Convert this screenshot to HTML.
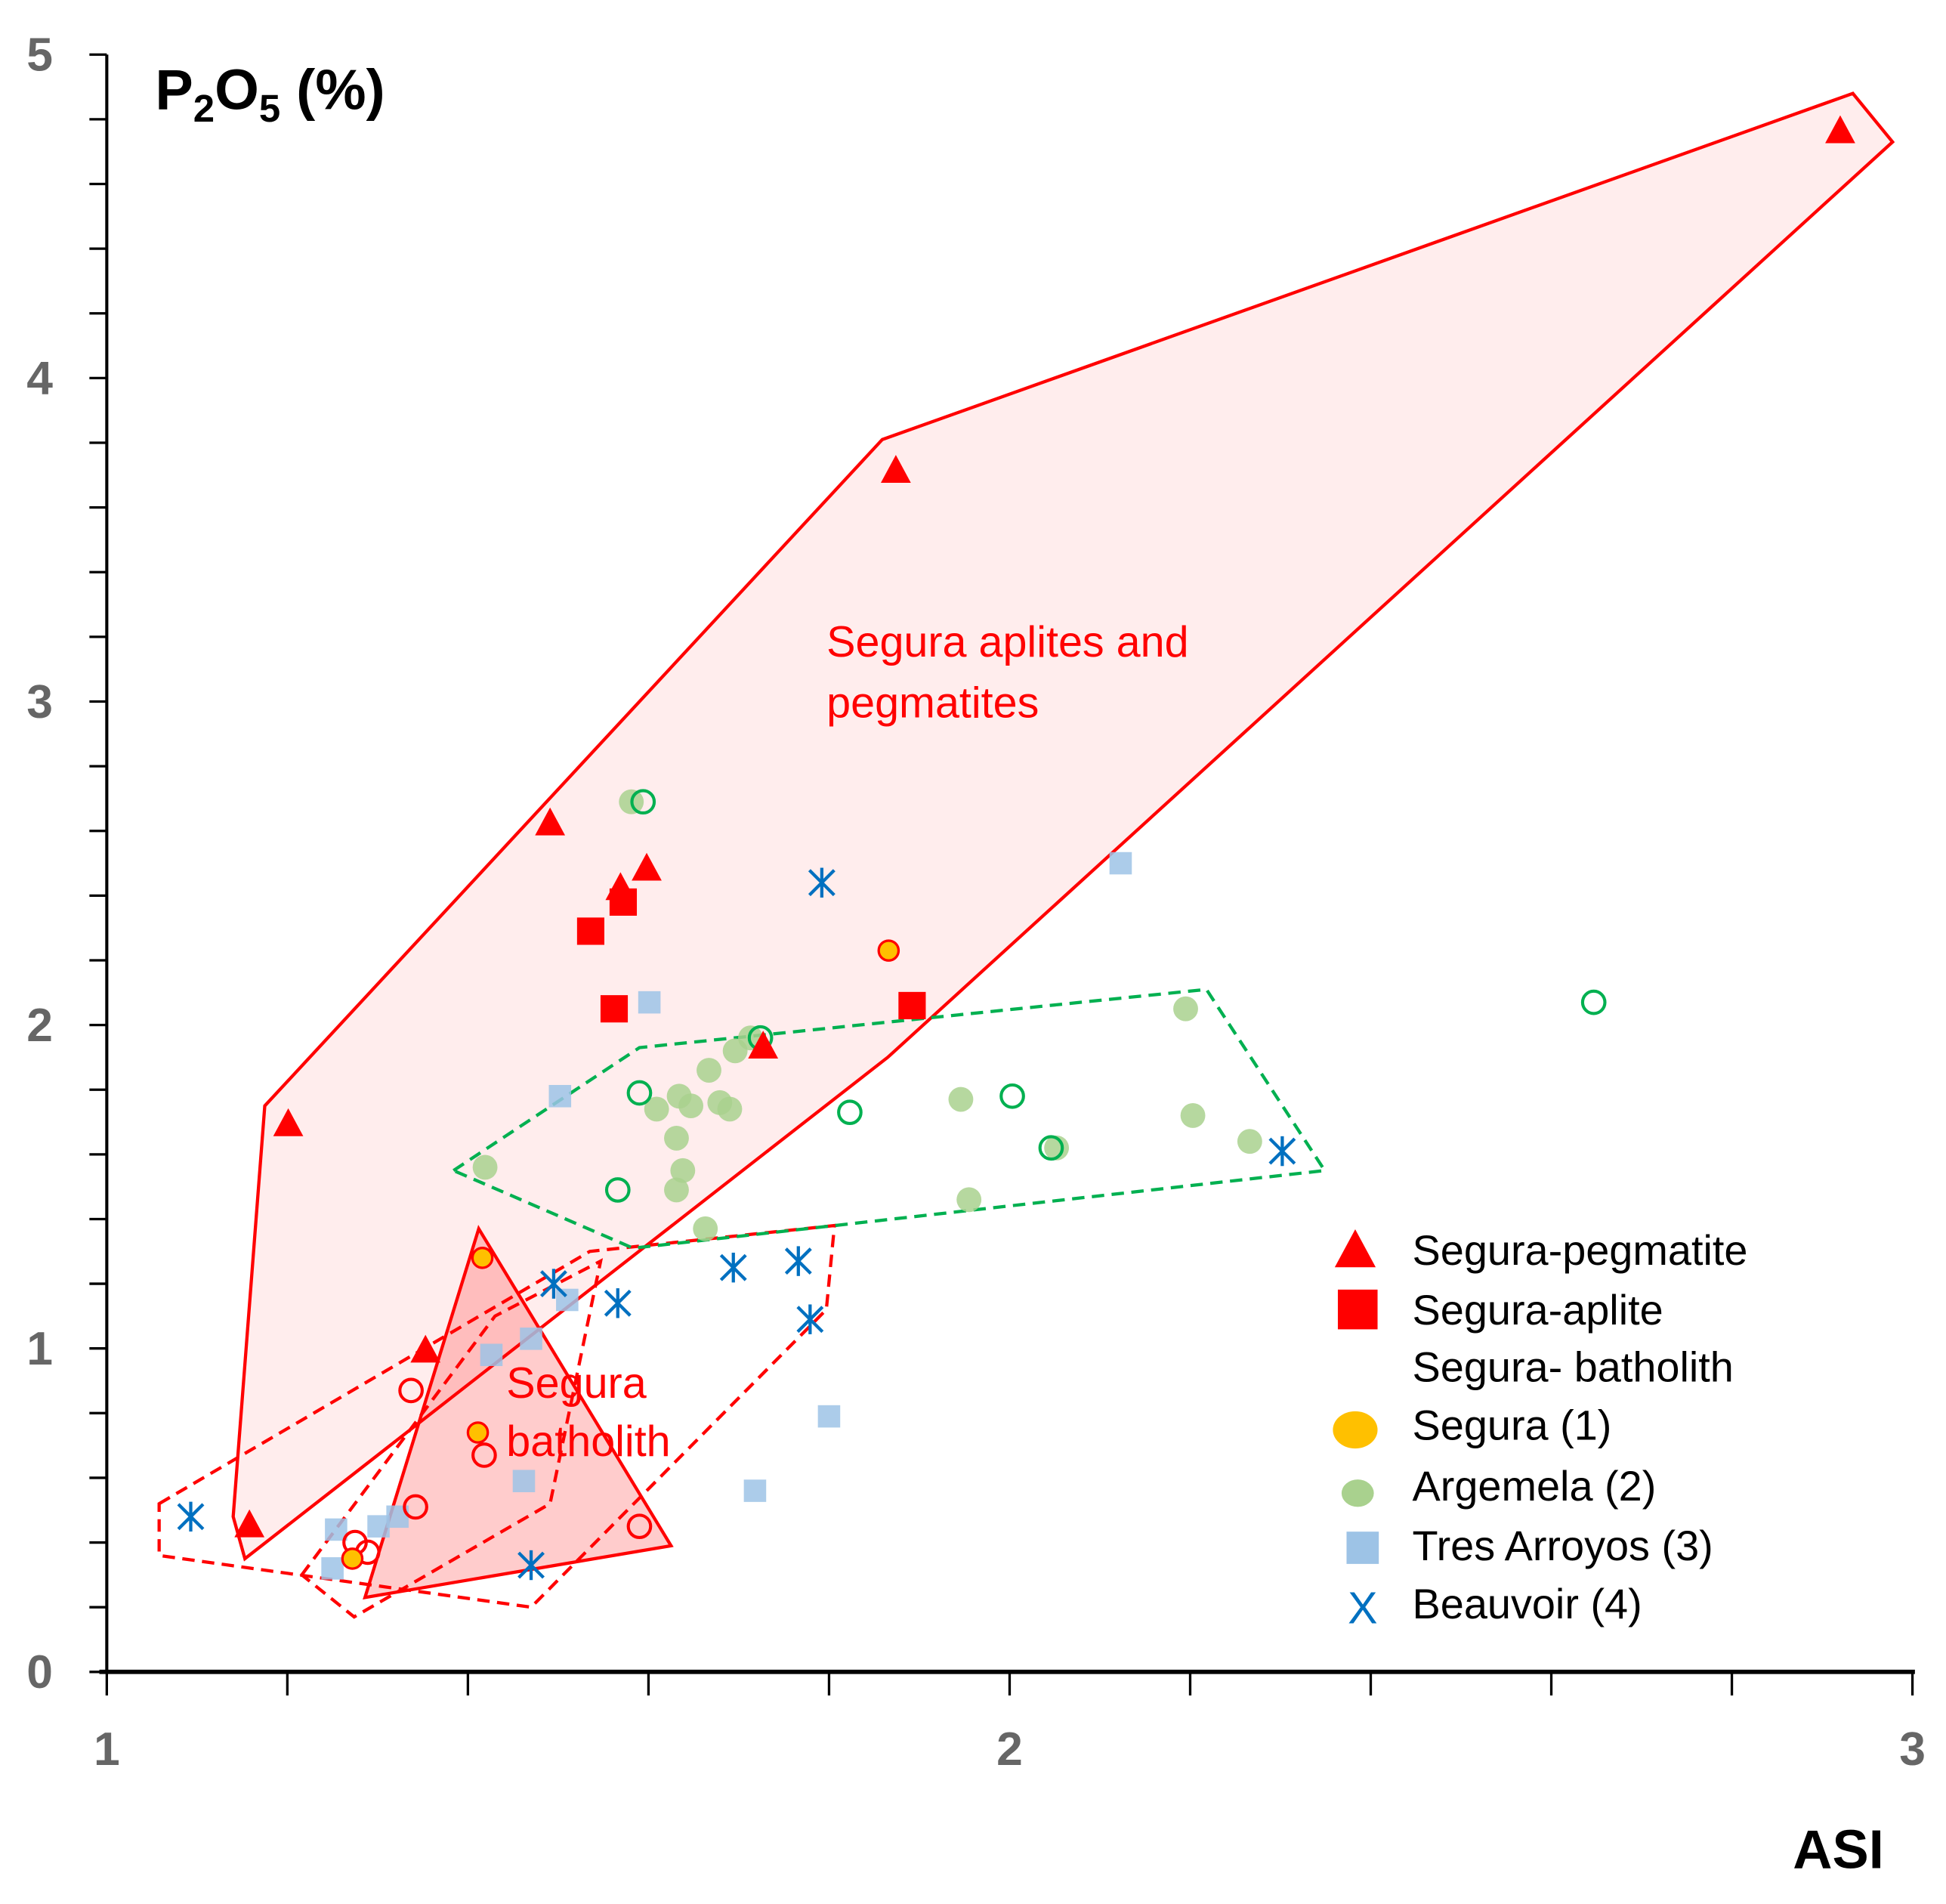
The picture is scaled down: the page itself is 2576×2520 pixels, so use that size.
<!DOCTYPE html>
<html><head><meta charset="utf-8"><style>
html,body{margin:0;padding:0;background:#fff;}
svg{display:block;}
text{font-family:"Liberation Sans",sans-serif;}
</style></head><body>
<svg id="chart" width="2576" height="2520" viewBox="0 0 1568 1534" xmlns="http://www.w3.org/2000/svg">
<g id="regions"></g>
<g id="axes"></g>
<g id="points"></g>
<g id="legend"></g>
<text x="125" y="88" font-size="46" font-weight="bold" fill="#000">P<tspan font-size="31" dy="10">2</tspan><tspan dy="-10">O</tspan><tspan font-size="31" dy="10">5</tspan><tspan dy="-10"> (%)</tspan></text>
<text x="1518" y="1505" font-size="44" font-weight="bold" text-anchor="end" fill="#000">ASI</text>
<text x="666" y="529" font-size="35" fill="#ff0000">Segura aplites and</text>
<text x="666" y="578" font-size="35" fill="#ff0000">pegmatites</text>
<text x="408" y="1126" font-size="35" fill="#ff0000">Segura</text>
<text x="408" y="1173" font-size="35" fill="#ff0000">batholith</text>
</svg>
<script>
const xTicks=[1,2,3];
const yTicks=[0,1,2,3,4,5];
const pegX=[2.920,1.874,1.491,1.598,1.569,1.727,1.201,1.353,1.158];
const pegY=[4.76,3.71,2.62,2.48,2.42,1.93,1.69,0.99,0.45];
const apX=[1.536,1.572,1.562,1.892];
const apY=[2.29,2.38,2.05,2.06];
const seg1X=[1.416,1.411,1.866,1.272];
const seg1Y=[1.28,0.74,2.23,0.35];
const segOpenX=[1.337,1.418,1.342,1.289,1.275,1.590];
const segOpenY=[0.87,0.67,0.51,0.37,0.40,0.45];
const argX=[1.581,1.713,1.696,1.667,1.609,1.634,1.647,1.679,1.690,1.631,1.638,1.631,1.663,1.419,2.195,2.203,2.266,1.946,1.955,2.052];
const argY=[2.69,1.96,1.92,1.86,1.74,1.78,1.75,1.76,1.74,1.65,1.55,1.49,1.37,1.56,2.05,1.72,1.64,1.77,1.46,1.62];
const argOpenX=[1.594,1.724,1.590,1.566,1.823,2.003,2.046,2.647];
const argOpenY=[2.69,1.96,1.79,1.49,1.73,1.78,1.62,2.07];
const taX=[2.123,1.601,1.502,1.510,1.470,1.426,1.322,1.301,1.254,1.250,1.462,1.800,1.718];
const taY=[2.50,2.07,1.78,1.15,1.03,0.98,0.48,0.45,0.44,0.32,0.59,0.79,0.56];
const bvX=[1.792,2.302,1.694,1.766,1.779,1.566,1.495,1.093,1.470];
const bvY=[2.44,1.61,1.25,1.27,1.09,1.14,1.20,0.48,0.33];
const pegFieldX=[1.175,1.859,2.934,2.978,1.865,1.153,1.140];
const pegFieldY=[1.75,3.81,4.88,4.73,1.90,0.35,0.48];
const bathFieldX=[1.412,1.625,1.286];
const bathFieldY=[1.37,0.39,0.23];
const dash1X=[1.058,1.535,1.806,1.797,1.470,1.058];
const dash1Y=[0.52,1.30,1.38,1.12,0.20,0.36];
const dash2X=[1.216,1.430,1.547,1.491,1.274];
const dash2Y=[0.30,1.10,1.27,0.52,0.17];
const greenFieldX=[1.384,1.590,2.218,2.349,1.583];
const greenFieldY=[1.55,1.93,2.11,1.55,1.31];

const NS="http://www.w3.org/2000/svg";
function sx(v){return 86+(v-1)*727.5;}
function sy(v){return 1347-v*260.6;}
function mk(tag,attrs,parent){const e=document.createElementNS(NS,tag);for(const k in attrs)e.setAttribute(k,attrs[k]);parent.appendChild(e);return e;}
const regions=document.getElementById('regions');
const axes=document.getElementById('axes');
const pts=document.getElementById('points');
const leg=document.getElementById('legend');
function poly(xs,ys,fill,stroke,dash,name){
  const p=xs.map((x,i)=>sx(x)+','+sy(ys[i])).join(' ');
  const e=mk('polygon',{points:p,fill:fill,stroke:stroke,'stroke-width':2.6,'stroke-dasharray':dash||'none'},regions);
  
  
}
poly(pegFieldX,pegFieldY,'rgba(255,0,0,0.07)','#ff0000',null,'aplite-pegmatite-field');
poly(bathFieldX,bathFieldY,'rgba(255,0,0,0.2)','#ff0000',null,'batholith-field');
poly(dash1X,dash1Y,'none','#ff0000','10,6','batholith-dashed-field-1');
poly(dash2X,dash2Y,'none','#ff0000','10,6','batholith-dashed-field-2');
poly(greenFieldX,greenFieldY,'none','#00b050','10,6','argemela-field');

let e=mk('line',{x1:86,y1:44,x2:86,y2:1347,stroke:'#000','stroke-width':2.5},axes);


e=mk('line',{x1:80,y1:1347,x2:1543,y2:1347,stroke:'#000','stroke-width':3.5},axes);


for(let i=0;i<=10;i++){
  const v=1+i*0.2;
  e=mk('line',{x1:sx(v),y1:1347,x2:sx(v),y2:1366,stroke:'#000','stroke-width':2},axes);
  
  
}
for(let i=0;i<=25;i++){
  const v=i*0.2;
  e=mk('line',{x1:86,y1:sy(v),x2:72,y2:sy(v),stroke:'#000','stroke-width':2},axes);
  
  
}
xTicks.forEach(v=>{
  e=mk('text',{x:sx(v),y:1422,'font-size':38,'font-weight':'bold',fill:'#666','text-anchor':'middle'},axes);
  e.textContent=v;
  
  
});
yTicks.forEach(v=>{
  e=mk('text',{x:32,y:sy(v)+13,'font-size':38,'font-weight':'bold',fill:'#666','text-anchor':'middle'},axes);
  e.textContent=v;
  
  
});

function tri(cx,cy,s,par){return mk('polygon',{points:`${cx},${cy-s*0.62} ${cx+s*0.55},${cy+s*0.4} ${cx-s*0.55},${cy+s*0.4}`,fill:'#ff0000'},par);}
function sq(cx,cy,s,fill,par){return mk('rect',{x:cx-s/2,y:cy-s/2,width:s,height:s,fill:fill},par);}
function star(cx,cy,s,par){const g=mk('g',{stroke:'#0070c0','stroke-width':2.6,fill:'none'},par);
  mk('line',{x1:cx-s/2,y1:cy-s/2,x2:cx+s/2,y2:cy+s/2},g);mk('line',{x1:cx-s/2,y1:cy+s/2,x2:cx+s/2,y2:cy-s/2},g);mk('line',{x1:cx,y1:cy-s*0.6,x2:cx,y2:cy+s*0.6},g);return g;}

argX.forEach((x,i)=>{e=mk('circle',{cx:sx(x),cy:sy(argY[i]),r:10,fill:'#a9d18e','fill-opacity':0.85},pts);
  
  });
argOpenX.forEach((x,i)=>{e=mk('circle',{cx:sx(x),cy:sy(argOpenY[i]),r:9,fill:'none',stroke:'#00b050','stroke-width':2.5},pts);
  
  });
taX.forEach((x,i)=>{e=sq(sx(x),sy(taY[i]),18,'rgba(157,195,230,0.85)',pts);
  
  });
segOpenX.forEach((x,i)=>{e=mk('circle',{cx:sx(x),cy:sy(segOpenY[i]),r:9,fill:'none',stroke:'#ff0000','stroke-width':2.5},pts);
  
  });
seg1X.forEach((x,i)=>{e=mk('circle',{cx:sx(x),cy:sy(seg1Y[i]),r:8,fill:'#ffc000',stroke:'#ff0000','stroke-width':2},pts);
  
  });
bvX.forEach((x,i)=>{e=star(sx(x),sy(bvY[i]),20,pts);
  
  });
apX.forEach((x,i)=>{e=sq(sx(x),sy(apY[i]),22,'#ff0000',pts);
  
  });
pegX.forEach((x,i)=>{e=tri(sx(x),sy(pegY[i]),22,pts);
  
  });

const legLabels=['Segura-pegmatite','Segura-aplite','Segura- batholith','Segura (1)','Argemela (2)','Tres Arroyos (3)','Beauvoir (4)'];
const legY=[1007,1055,1101,1148,1197,1245,1292];
legLabels.forEach((t,i)=>{
  const y=legY[i];
  if(i===0)e=tri(1092,y+2,30,leg);
  else if(i===1)e=sq(1094,y,32,'#ff0000',leg);
  else if(i===3)e=mk('ellipse',{cx:1092,cy:y+4,rx:18,ry:15,fill:'#ffc000'},leg);
  else if(i===4)e=mk('ellipse',{cx:1094,cy:y+6,rx:13,ry:11,fill:'#a9d18e'},leg);
  else if(i===5)e=sq(1098,y+2,26,'#9dc3e6',leg);
  else if(i===6){e=mk('text',{x:1098,y:y+16,'font-size':36,fill:'#0070c0','text-anchor':'middle'},leg);e.textContent='X';}
  else e=null;
  if(e){
  }
  e=mk('text',{x:1138,y:y+12,'font-size':34,fill:'#000'},leg);
  e.textContent=t;
  
  
});
</script>
</body></html>
